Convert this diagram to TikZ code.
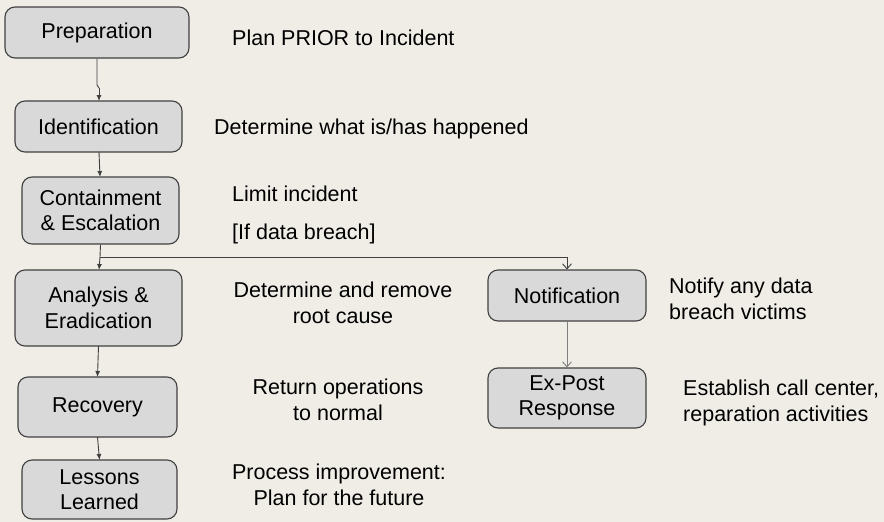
\documentclass[tikz,border=0pt]{standalone}
\usepackage{fontspec}
\setmainfont{Liberation Sans}
\usetikzlibrary{arrows.meta}
\definecolor{bg}{HTML}{EFEDE6}
\definecolor{boxfill}{HTML}{D9D9D9}
\definecolor{boxline}{HTML}{404040}
\definecolor{lightline}{HTML}{7F7F7F}
\begin{document}
\begin{tikzpicture}[x=1pt,y=-1pt,
  phase/.style={draw=boxline, line width=1.1pt, fill=boxfill, rounded corners=10pt,
    font=\fontsize{21.5}{25.5}\selectfont, align=center, inner sep=0pt},
  note/.style={font=\fontsize{21.5}{25.5}\selectfont, inner sep=0pt},
  flow/.style={draw=boxline, line width=0.9pt, -{Latex[length=6pt,width=5pt]}},
  branch/.style={draw=boxline, line width=0.9pt, -{Straight Barb[length=5pt,width=9pt]}},
  branchlight/.style={draw=lightline, line width=0.9pt, -{Straight Barb[length=5pt,width=9pt]}}]
\useasboundingbox (0,0) rectangle (884,522);
\fill[bg] (0,0) rectangle (884,522);

\node[phase, minimum width=184pt, minimum height=51pt] (prep) at (97,32.5) {Preparation};
\node[phase, minimum width=167pt, minimum height=51pt] (ident) at (98.5,126.5) {Identification};
\node[phase, minimum width=157pt, minimum height=67pt] (cont) at (100.5,210.5) {Containment\\\& Escalation};
\node[phase, minimum width=167pt, minimum height=76pt] (anal) at (98.5,308) {Analysis \&\\Eradication};
\node[phase, minimum width=159pt, minimum height=60pt] (recov) at (97.5,407) {Recovery};
\node[phase, minimum width=155pt, minimum height=59pt] (lessons) at (99.5,489.5) {Lessons\\Learned};
\node[phase, minimum width=158pt, minimum height=51pt] (notif) at (567,295.5) {Notification};
\node[phase, minimum width=158pt, minimum height=60pt] (expost) at (567,398) {Ex-Post\\Response};

\node[note, anchor=west] (t1) at (232,38) {Plan PRIOR to Incident};
\node[note, anchor=west] (t2) at (214,129) {Determine what is/has happened};
\node[note, anchor=west] (t3) at (232,194) {Limit incident};
\node[note, anchor=west] (t4) at (232,234) {[If data breach]};
\node[note, align=center] (t5) at (343,303) {Determine and remove\\root cause};
\node[note, align=center] (t6) at (338,400) {Return operations\\to normal};
\node[note, align=center] (t7) at (339,485) {Process improvement:\\Plan for the future};
\node[note, align=left, anchor=west] (t8) at (669,299) {Notify any data\\breach victims};
\node[note, align=left, anchor=west] (t9) at (683,403) {Establish call center,\\reparation activities};

\coordinate (j1) at (97,85);
\coordinate (j2) at (99,88);
\draw[boxline, line width=0.9pt] (prep.south) -- (j1) -- (j2);
\draw[flow] (j2) -- (99,101);
\draw[flow] (99,152) -- (100,177);
\coordinate (split) at (100,257);
\draw[flow] (cont.south) -- (split) -- (99,270);
\draw[branch] (split) -| (notif.north);
\draw[flow] (98.5,346) -- (97.5,377);
\draw[flow] (97.5,437) -- (99.5,460);
\draw[branchlight] (notif.south) -- (expost.north);
\end{tikzpicture}
\end{document}
